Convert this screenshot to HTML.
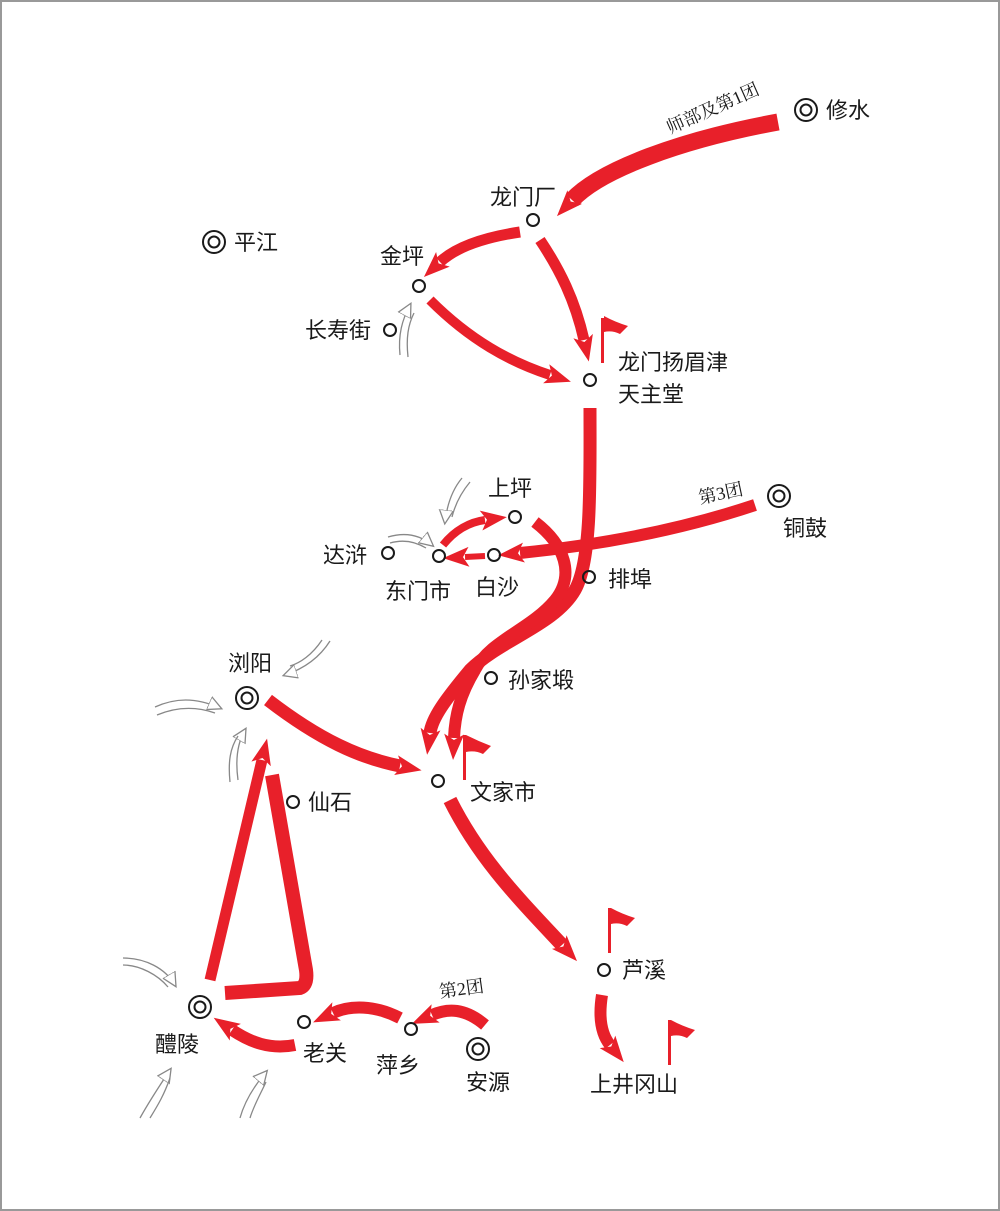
<!DOCTYPE html>
<html><head><meta charset="utf-8"><style>
html,body{margin:0;padding:0;background:#fff}
svg{display:block}
text{font-family:"Liberation Sans","Noto Sans CJK SC",sans-serif;fill:#1a1a1a}
.s{font-family:"Liberation Serif","Noto Serif CJK SC",serif}
</style></head><body>
<svg width="1000" height="1211" viewBox="0 0 1000 1211" xmlns="http://www.w3.org/2000/svg">
<defs>
<marker id="ah" markerUnits="userSpaceOnUse" markerWidth="30" markerHeight="30" refX="4" refY="12" orient="auto">
<path d="M0,2 L26,12 L0,22 L6,12 Z" fill="#e8202a"/>
</marker>
<marker id="gh" markerUnits="userSpaceOnUse" markerWidth="20" markerHeight="20" refX="12" refY="8" orient="auto">
<path d="M0,1 L14,8 L0,15 Z" fill="#fff" stroke="#888" stroke-width="1.3"/>
</marker>
</defs>
<rect x="1" y="1" width="998" height="1209" fill="#fff" stroke="#999" stroke-width="2"/>
<g fill="none" stroke="#e8202a" stroke-linecap="butt">
<path d="M778,122 C680,140 600,170 572,200" stroke-width="17" marker-end="url(#ah)"/>
<path d="M520,232 C480,238 455,248 440,262" stroke-width="11" marker-end="url(#ah)"/>
<path d="M540,240 C560,270 575,300 584,340" stroke-width="11" marker-end="url(#ah)"/>
<path d="M430,300 C470,340 510,362 550,375" stroke-width="10" marker-end="url(#ah)"/>
<path d="M590,408 C590,480 592,560 575,590 C555,625 500,640 470,670 C445,700 432,718 430,733" stroke-width="13" marker-end="url(#ah)"/>
<path d="M535,522 C565,545 575,575 555,600 C530,630 490,640 475,670 C460,695 455,715 454,738" stroke-width="12" marker-end="url(#ah)"/>
<path d="M755,505 C680,530 600,545 520,553" stroke-width="12" marker-end="url(#ah)"/>
<path d="M443,545 C455,530 470,522 485,520" stroke-width="8" marker-end="url(#ah)"/>
<path d="M485,556 L465,557" stroke-width="6" marker-end="url(#ah)"/>
<path d="M268,700 C320,740 360,758 400,766" stroke-width="13" marker-end="url(#ah)"/>
<path d="M210,980 L262,760" stroke-width="11" marker-end="url(#ah)"/>
<path d="M225,993 L300,988 Q308,985 306,970 L272,775" stroke-width="14"/>
<path d="M450,800 C480,860 520,900 562,945" stroke-width="14" marker-end="url(#ah)"/>
<path d="M602,995 C598,1020 602,1035 610,1045" stroke-width="12" marker-end="url(#ah)"/>
<path d="M485,1025 C465,1008 448,1008 432,1015" stroke-width="12" marker-end="url(#ah)"/>
<path d="M400,1018 C375,1005 350,1005 333,1013" stroke-width="12" marker-end="url(#ah)"/>
<path d="M295,1045 C270,1050 250,1042 232,1030" stroke-width="12" marker-end="url(#ah)"/>
</g>
<g fill="#e8202a">
<rect x="601" y="318" width="3" height="45"/><path d="M604,316 Q615,322 628,326 L620,334 Q612,330 604,332 Z"/>
<rect x="463" y="735" width="3" height="45"/><path d="M466,735 Q478,741 491,746 L483,754 Q475,750 466,752 Z"/>
<rect x="608" y="908" width="3" height="45"/><path d="M611,908 Q622,914 635,918 L627,926 Q619,922 611,924 Z"/>
<rect x="668" y="1020" width="3" height="45"/><path d="M671,1020 Q682,1026 695,1030 L687,1038 Q679,1034 671,1036 Z"/>
</g>
<g fill="none" stroke="#888" stroke-width="1.3">
<path d="M400,355 C398,335 402,320 410,305" marker-end="url(#gh)"/><path d="M408,357 C406,338 408,325 414,313"/>
<path d="M462,478 C452,490 447,505 445,522" marker-end="url(#gh)"/><path d="M470,482 C460,494 455,505 452,517"/>
<path d="M388,537 C405,532 420,535 432,545" marker-end="url(#gh)"/><path d="M390,543 C404,539 416,542 426,548"/>
<path d="M330,641 C318,660 300,670 285,675" marker-end="url(#gh)"/><path d="M322,640 C312,655 300,663 290,666"/>
<path d="M155,707 C175,698 195,697 220,708" marker-end="url(#gh)"/><path d="M157,715 C176,707 195,706 215,713"/>
<path d="M238,780 C235,758 238,742 245,730" marker-end="url(#gh)"/><path d="M230,782 C228,762 230,748 238,736"/>
<path d="M123,958 C145,958 165,968 175,985" marker-end="url(#gh)"/><path d="M123,965 C140,965 158,975 168,987"/>
<path d="M140,1118 C150,1100 160,1085 170,1070" marker-end="url(#gh)"/><path d="M150,1118 C158,1105 164,1095 170,1078"/>
<path d="M240,1118 C245,1100 255,1085 266,1072" marker-end="url(#gh)"/><path d="M250,1118 C254,1105 260,1095 266,1082"/>
</g>
<g fill="none" stroke="#1a1a1a" stroke-width="2">
<circle cx="806" cy="110" r="11"/><circle cx="806" cy="110" r="5.5"/>
<circle cx="214" cy="242" r="11"/><circle cx="214" cy="242" r="5.5"/>
<circle cx="779" cy="496" r="11"/><circle cx="779" cy="496" r="5.5"/>
<circle cx="247" cy="698" r="11"/><circle cx="247" cy="698" r="5.5"/>
<circle cx="200" cy="1007" r="11"/><circle cx="200" cy="1007" r="5.5"/>
<circle cx="478" cy="1049" r="11"/><circle cx="478" cy="1049" r="5.5"/>
<circle cx="533" cy="220" r="6"/><circle cx="419" cy="286" r="6"/><circle cx="390" cy="330" r="6"/>
<circle cx="590" cy="380" r="6"/><circle cx="515" cy="517" r="6"/><circle cx="388" cy="553" r="6"/>
<circle cx="439" cy="556" r="6"/><circle cx="494" cy="555" r="6"/><circle cx="589" cy="577" r="6"/>
<circle cx="491" cy="678" r="6"/><circle cx="438" cy="781" r="6"/><circle cx="293" cy="802" r="6"/>
<circle cx="604" cy="970" r="6"/><circle cx="304" cy="1022" r="6"/><circle cx="411" cy="1029" r="6"/>
</g>
<g font-size="22">
<text x="826" y="118">修水</text>
<text x="234" y="250">平江</text>
<text x="490" y="205">龙门厂</text>
<text x="380" y="264">金坪</text>
<text x="305" y="338">长寿街</text>
<text x="618" y="370">龙门扬眉津</text>
<text x="618" y="402">天主堂</text>
<text x="488" y="496">上坪</text>
<text x="323" y="563">达浒</text>
<text x="385" y="599">东门市</text>
<text x="475" y="595">白沙</text>
<text x="608" y="587">排埠</text>
<text x="783" y="536">铜鼓</text>
<text x="508" y="688">孙家塅</text>
<text x="228" y="671">浏阳</text>
<text x="470" y="800">文家市</text>
<text x="308" y="810">仙石</text>
<text x="622" y="978">芦溪</text>
<text x="590" y="1092">上井冈山</text>
<text x="155" y="1052">醴陵</text>
<text x="303" y="1061">老关</text>
<text x="376" y="1073">萍乡</text>
<text x="466" y="1090">安源</text>
</g>
<g font-size="18">
<text class="s" x="670" y="134" transform="rotate(-24 670 134)">师部及第1团</text>
<text class="s" x="700" y="504" transform="rotate(-12 700 504)">第3团</text>
<text class="s" x="440" y="998" transform="rotate(-8 440 998)">第2团</text>
</g>
</svg>
</body></html>
